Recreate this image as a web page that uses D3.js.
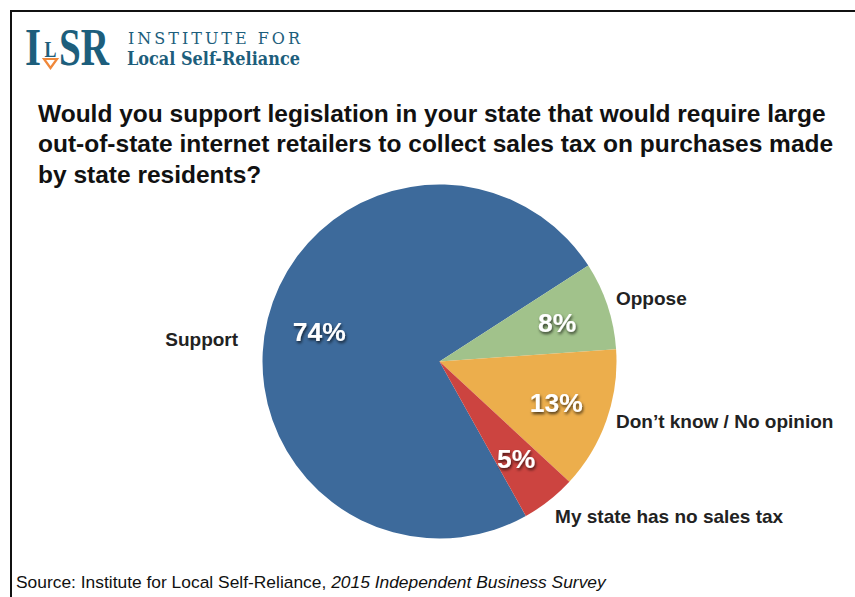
<!DOCTYPE html>
<html>
<head>
<meta charset="utf-8">
<script src="https://cdn.jsdelivr.net/npm/d3@7"></script>
<style>
  html, body { margin: 0; padding: 0; background: #fff; }
  svg { display: block; }
</style>
</head>
<body>
<svg id="chart" width="855" height="597"></svg>
<script>
// Survey responses (percent of respondents)
const categories = ["Support", "Oppose", "Don\u2019t know / No opinion", "My state has no sales tax"];
const values = [74, 8, 13, 5];
const valueLabels = ["74%", "8%", "13%", "5%"];
const sliceColors = ["#3d6a9b", "#a1c28b", "#ecae4c", "#cc4440"];

const titleLines = [
  "Would you support legislation in your state that would require large",
  "out-of-state internet retailers to collect sales tax on purchases made",
  "by state residents?"
];

// Callout placement, relative to the pie centre in units of the radius
const calloutLayout = [
  { x: -1.138, y: -0.088, anchor: "end" },
  { x: 0.997, y: -0.319, anchor: "start" },
  { x: 0.997, y: 0.376, anchor: "start" },
  { x: 0.653, y: 0.912, anchor: "start" }
];

const svg = d3.select("#chart");
const teal = "#1d5e7c";

// Frame: top and left rules
svg.append("line").attr("x1", 11).attr("y1", 11).attr("x2", 855).attr("y2", 11)
  .attr("stroke", "#111").attr("stroke-width", 2);
svg.append("line").attr("x1", 11).attr("y1", 10).attr("x2", 11).attr("y2", 597)
  .attr("stroke", "#111").attr("stroke-width", 2);

// Logo mark
const logo = svg.append("g");
const serif = "'Liberation Serif', 'DejaVu Serif', serif";
logo.append("text").attr("x", 25).attr("y", 65).text("I")
  .attr("font-family", serif).attr("font-weight", "bold").attr("font-size", 53)
  .attr("fill", teal).attr("textLength", 16).attr("lengthAdjust", "spacingAndGlyphs");
logo.append("text").attr("x", 44.5).attr("y", 57).text("L")
  .attr("font-family", serif).attr("font-weight", "bold").attr("font-size", 24)
  .attr("fill", teal).attr("textLength", 12).attr("lengthAdjust", "spacingAndGlyphs");
logo.append("path").attr("d", "M44,59 L57,59 L50.5,68 Z")
  .attr("fill", "none").attr("stroke", "#f0883a").attr("stroke-width", 2.2)
  .attr("stroke-linejoin", "miter");
logo.append("text").attr("x", 59).attr("y", 65).text("SR")
  .attr("font-family", serif).attr("font-weight", "bold").attr("font-size", 53)
  .attr("fill", teal).attr("textLength", 50).attr("lengthAdjust", "spacingAndGlyphs");

logo.append("text").attr("x", 128).attr("y", 44).text("INSTITUTE FOR")
  .attr("font-family", "'DejaVu Serif', serif").attr("font-size", 16)
  .attr("fill", teal).attr("textLength", 172).attr("lengthAdjust", "spacing");
logo.append("text").attr("x", 127).attr("y", 65).text("Local Self-Reliance")
  .attr("font-family", "'DejaVu Serif', serif").attr("font-weight", "bold").attr("font-size", 18)
  .attr("fill", teal).attr("textLength", 173).attr("lengthAdjust", "spacingAndGlyphs");

// Question title
const sans = "'Liberation Sans', Arial, Helvetica, sans-serif";
svg.append("g").selectAll("text").data(titleLines).join("text")
  .attr("x", 38)
  .attr("y", (d, i) => 121.5 + i * 30.8)
  .attr("font-family", sans).attr("font-weight", "bold").attr("font-size", 24.5)
  .attr("fill", "#111")
  .text(d => d);

// Drop shadow for the value labels
const defs = svg.append("defs");
const shadow = defs.append("filter").attr("id", "labelShadow")
  .attr("x", "-30%").attr("y", "-30%").attr("width", "160%").attr("height", "160%");
shadow.append("feDropShadow").attr("dx", 1).attr("dy", 2).attr("stdDeviation", 1.4)
  .attr("flood-color", "#000").attr("flood-opacity", 0.7);

// Pie
const cx = 439.5, cy = 361.5, radius = 177;
const startDeg = 150.8;
const pie = d3.pie().sort(null).value(d => d)
  .startAngle(startDeg * Math.PI / 180)
  .endAngle((startDeg + 360) * Math.PI / 180);
const arcs = pie(values);
const arc = d3.arc().innerRadius(0).outerRadius(radius);
const labelArc = d3.arc().innerRadius(radius * 0.7).outerRadius(radius * 0.7);

const g = svg.append("g").attr("transform", `translate(${cx},${cy})`);
g.selectAll("path.slice").data(arcs).join("path")
  .attr("class", "slice")
  .attr("d", arc)
  .attr("fill", (d, i) => sliceColors[i]);

g.selectAll("text.value").data(arcs).join("text")
  .attr("class", "value")
  .attr("transform", d => `translate(${labelArc.centroid(d)})`)
  .attr("text-anchor", "middle")
  .attr("dy", "0.36em")
  .attr("font-family", sans).attr("font-weight", "bold").attr("font-size", 26.5)
  .attr("fill", "#fff")
  .attr("filter", "url(#labelShadow)")
  .text((d, i) => valueLabels[i]);

// Category callouts
g.selectAll("text.callout").data(arcs).join("text")
  .attr("class", "callout")
  .attr("x", (d, i) => calloutLayout[i].x * radius)
  .attr("y", (d, i) => calloutLayout[i].y * radius)
  .attr("text-anchor", (d, i) => calloutLayout[i].anchor)
  .attr("font-family", sans).attr("font-weight", "bold").attr("font-size", 19)
  .attr("fill", "#222")
  .text((d, i) => categories[i]);

// Source note
const source = svg.append("text").attr("x", 16).attr("y", 588)
  .attr("font-family", sans).attr("font-size", 17.4).attr("fill", "#111");
source.append("tspan").text("Source: Institute for Local Self-Reliance, ");
source.append("tspan").attr("font-style", "italic").text("2015 Independent Business Survey");
</script>
</body>
</html>
